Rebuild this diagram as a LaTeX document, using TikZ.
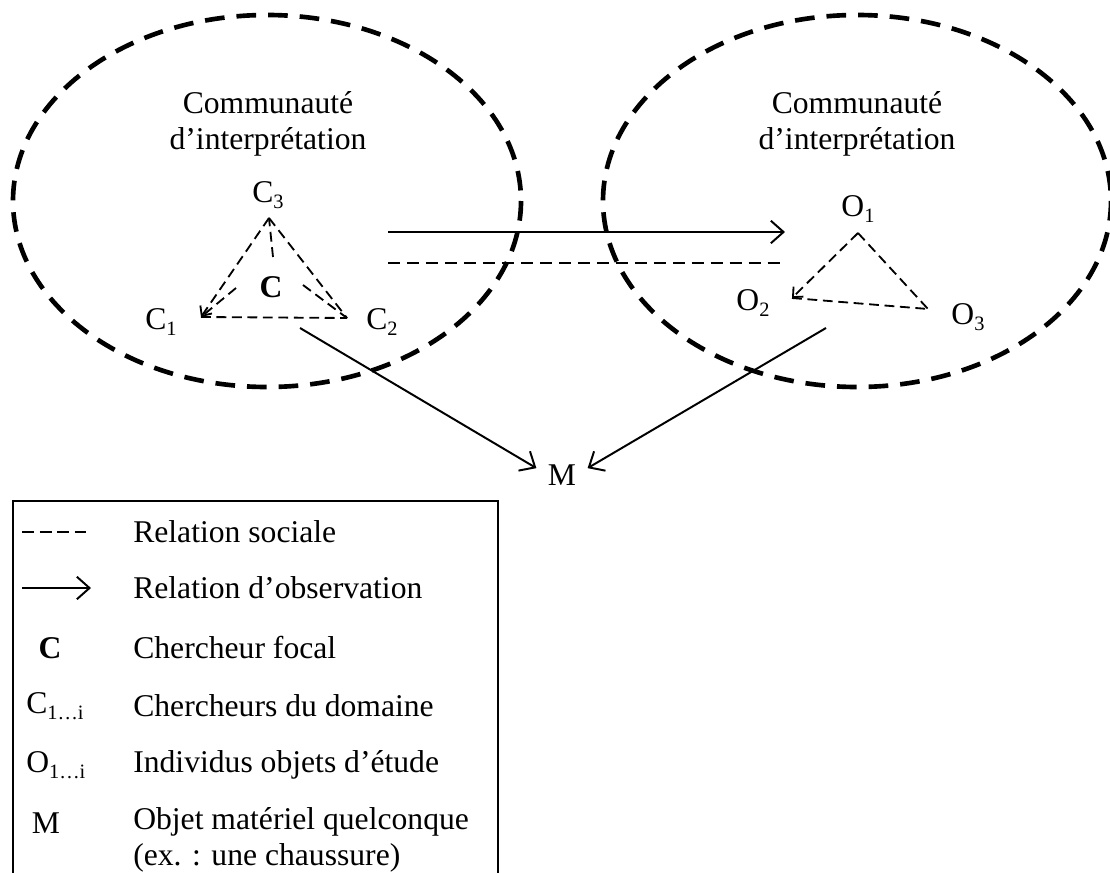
\documentclass[tikz,border=0pt]{standalone}
\usepackage{fontspec}
\setmainfont{Liberation Serif}
\usetikzlibrary{arrows.meta}
\newcommand{\lsub}[1]{\raisebox{-4pt}{\fontsize{14.5}{14.5}\selectfont #1}}
\begin{document}
\begin{tikzpicture}[x=0.025cm,y=-0.025cm,
  every node/.style={font=\fontsize{22.5}{25.6}\selectfont, inner sep=1pt},
  community/.style={line width=3.3pt, dash pattern=on 14pt off 8.5pt},
  social/.style={line width=1.3pt, dash pattern=on 7pt off 4pt},
  longsocial/.style={line width=1.4pt, dash pattern=on 8.5pt off 5pt},
  obs/.style={line width=1.4pt, -{Straight Barb[length=9pt,width=16pt]}},
  socarrow/.style={-{Straight Barb[length=5.5pt,width=10pt]}},
  legtext/.style={anchor=west, inner sep=0pt, align=left},
  boxline/.style={line width=1.4pt}
]
\useasboundingbox (0,0) rectangle (1110,873);

% communities
\draw[community] (267,201) ellipse [x radius=254, y radius=186];
\draw[community] (857,201) ellipse [x radius=254, y radius=186];
\node[align=center] (comL) at (268,124) {Communauté\\d’interprétation};
\node[align=center] (comR) at (857,124) {Communauté\\d’interprétation};

% left triangle (researchers)
\node (C3) at (268,195) {C\lsub{3}};
\node (C1) at (161,322) {C\lsub{1}};
\node (C2) at (382,322) {C\lsub{2}};
\node (Cf) at (271,287) {\textbf{C}};
\coordinate (p3) at (269,218);
\coordinate (p1) at (201,317);
\coordinate (p2) at (347,318);
\coordinate (c3s) at (273,257);
\coordinate (c1s) at (236,288);
\coordinate (c2s) at (303,285);
\draw[social,socarrow] (p3) -- (p1);
\draw[social] (p3) -- (p2);
\draw[social] (p1) -- (p2);
\draw[social] (c3s) -- (p3);
\draw[social] (c1s) -- (p1);
\draw[social] (c2s) -- (p2);

% right triangle (objects)
\node (O1) at (858,209) {O\lsub{1}};
\node (O2) at (753,303) {O\lsub{2}};
\node (O3) at (968,317) {O\lsub{3}};
\coordinate (q1) at (858,233);
\coordinate (q2) at (792,298);
\coordinate (q3) at (928,309);
\draw[social,socarrow] (q1) -- (q2);
\draw[social] (q1) -- (q3);
\draw[social] (q2) -- (q3);

% relations between communities
\coordinate (a1) at (388,232);
\coordinate (a2) at (785,232);
\coordinate (s1) at (388,263);
\coordinate (s2) at (785,263);
\draw[obs] (a1) -- (a2);
\draw[longsocial] (s1) -- (s2);

% material object
\node[inner xsep=8pt, inner ysep=2pt] (M) at (562,475) {M};
\coordinate (cL) at (300,328);
\coordinate (cR) at (826,328);
\draw[obs] (cL) -- (M.165);
\draw[obs] (cR) -- (M.15);

% legend
\coordinate (b1) at (13,880);
\coordinate (b2) at (13,501);
\coordinate (b3) at (498,501);
\coordinate (b4) at (498,880);
\draw[boxline] (b1) -- (b2) -- (b3) -- (b4);

\coordinate (l1a) at (22,532);
\coordinate (l1b) at (86,532);
\draw[line width=1.4pt, dash pattern=on 8.5pt off 4pt] (l1a) -- (l1b);
\node[legtext] (t1) at (133,532) {Relation sociale};

\coordinate (l2a) at (22,588);
\coordinate (l2b) at (91,588);
\draw[obs] (l2a) -- (l2b);
\node[legtext] (t2) at (133,588) {Relation d’observation};

\node (s3) at (50,648) {\textbf{C}};
\node[legtext] (t3) at (133,648) {Chercheur focal};

\node[legtext] (s4) at (26,706) {C\lsub{1…i}};
\node[legtext] (t4) at (133,706) {Chercheurs du domaine};

\node[legtext] (s5) at (26,765) {O\lsub{1…i}};
\node[legtext] (t5) at (133,765) {Individus objets d’étude};

\node (s6) at (46,823) {M};
\node[legtext] (t6) at (133,840) {Objet matériel quelconque\\(ex. : une chaussure)};
\end{tikzpicture}
\end{document}
